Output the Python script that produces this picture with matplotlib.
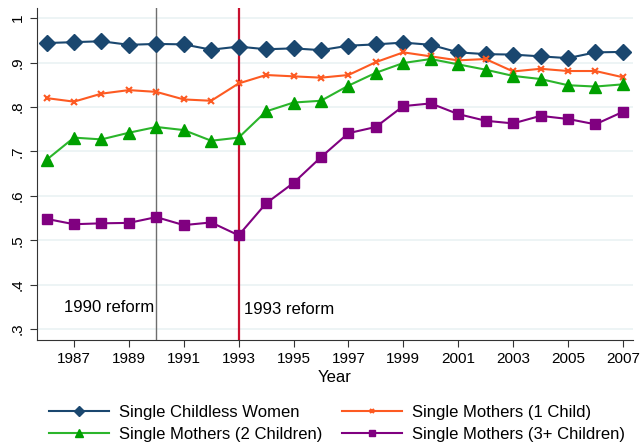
import matplotlib
matplotlib.use("Agg")
import matplotlib.pyplot as plt

plt.rcParams['font.family'] = ['Liberation Sans', 'DejaVu Sans']

years = list(range(1986, 2008))
childless = [0.944, 0.946, 0.948, 0.940, 0.942, 0.941, 0.929, 0.936, 0.930, 0.932, 0.928,
             0.938, 0.941, 0.945, 0.940, 0.923, 0.919, 0.918, 0.914, 0.910, 0.923, 0.924]
one_child = [0.820, 0.812, 0.830, 0.838, 0.834, 0.817, 0.814, 0.853, 0.872, 0.869, 0.866,
             0.872, 0.901, 0.923, 0.914, 0.905, 0.908, 0.880, 0.886, 0.881, 0.881, 0.867]
two_children = [0.681, 0.731, 0.727, 0.742, 0.755, 0.748, 0.724, 0.731, 0.790, 0.810, 0.814,
                0.848, 0.877, 0.899, 0.908, 0.896, 0.884, 0.870, 0.863, 0.849, 0.846, 0.851]
three_plus = [0.548, 0.536, 0.538, 0.539, 0.552, 0.534, 0.540, 0.511, 0.583, 0.629, 0.687,
              0.741, 0.755, 0.802, 0.808, 0.784, 0.769, 0.763, 0.780, 0.773, 0.761, 0.789]

labels = ["Single Childless Women", "Single Mothers (1 Child)",
          "Single Mothers (2 Children)", "Single Mothers (3+ Children)"]
xticks = list(range(1987, 2008, 2))
yticks = [0.3, 0.4, 0.5, 0.6, 0.7, 0.8, 0.9, 1.0]
yticklabels = [".3", ".4", ".5", ".6", ".7", ".8", ".9", "1"]
reforms = [1990, 1993]
reform_labels = ["1990 reform", "1993 reform"]

fig = plt.figure(figsize=(6.43, 4.42), dpi=100)
ax = fig.add_axes([0.057, 0.231, 0.927, 0.751])

for y in yticks:
    ax.axhline(y, color='#eaf2f3', lw=1.2, zorder=0)

ax.axvline(reforms[0], color='#6e6e6e', lw=1.0, zorder=1)
ax.axvline(reforms[1], color='#c8102e', lw=1.6, zorder=1)

l1, = ax.plot(years, childless, color='#1a476f', marker='D', markersize=8, lw=1.5, zorder=3)
l2, = ax.plot(years, one_child, color='#fd5a22', marker='x', markersize=4, mew=1.5, lw=1.5, zorder=3)
l3, = ax.plot(years, two_children, color='#2bb52b', marker='^', markersize=8, lw=1.5, zorder=3,
              markeredgecolor='#00a000', markerfacecolor='#00a000')
l4, = ax.plot(years, three_plus, color='#800080', marker='s', markersize=7, lw=1.5, zorder=3)

ax.text(reforms[0] - 0.09, 0.3475, reform_labels[0], ha='right', va='center', fontsize=12)
ax.text(reforms[1] + 0.18, 0.343, reform_labels[1], ha='left', va='center', fontsize=12)

ax.set_xlim(1985.64, 2007.36)
ax.set_ylim(0.2755, 1.023)
ax.set_xticks(xticks)
ax.set_xticklabels([str(x) for x in xticks], fontsize=11)
ax.set_yticks(yticks)
ax.set_yticklabels(yticklabels, fontsize=11, rotation=90, va='center')
ax.tick_params(axis='both', direction='out', length=5, width=0.8, color='#333333')
ax.spines['top'].set_visible(False)
ax.spines['right'].set_visible(False)
ax.spines['left'].set_color('#333333')
ax.spines['bottom'].set_color('#333333')
ax.set_xlabel("Year", fontsize=12, labelpad=3)

fig.legend([l1, l3, l2, l4], [labels[0], labels[2], labels[1], labels[3]],
           loc='lower center', bbox_to_anchor=(0.524, -0.022),
           ncol=2, frameon=False, fontsize=12, handlelength=3.6, columnspacing=1.15,
           labelspacing=0.42, handletextpad=0.6, borderpad=0.1, markerscale=0.7)

fig.savefig("out.png", dpi=100, facecolor='white')
